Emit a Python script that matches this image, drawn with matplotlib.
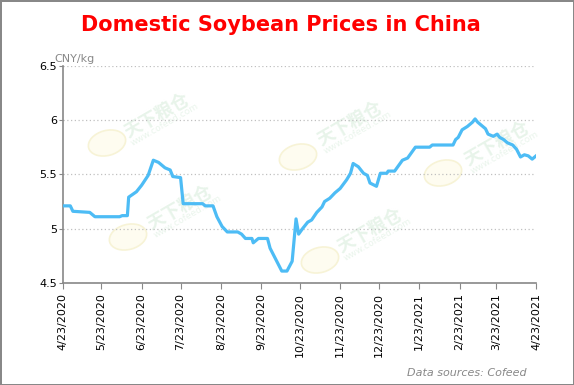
import pandas as pd
import matplotlib.pyplot as plt
from matplotlib.patches import Ellipse

# Domestic soybean prices (CNY/kg)
dates = ["2020-04-23", "2020-04-29", "2020-05-01", "2020-05-14", "2020-05-18", "2020-06-06",
         "2020-06-08", "2020-06-12", "2020-06-13", "2020-06-19", "2020-06-23", "2020-06-28",
         "2020-07-02", "2020-07-06", "2020-07-11", "2020-07-15", "2020-07-17", "2020-07-23",
         "2020-07-25", "2020-08-09", "2020-08-11", "2020-08-17", "2020-08-20", "2020-08-24",
         "2020-08-28", "2020-09-05", "2020-09-08", "2020-09-11", "2020-09-16", "2020-09-17",
         "2020-09-21", "2020-09-28", "2020-09-30", "2020-10-09", "2020-10-13", "2020-10-17",
         "2020-10-20", "2020-10-22", "2020-10-25", "2020-10-29", "2020-11-01", "2020-11-05",
         "2020-11-09", "2020-11-11", "2020-11-15", "2020-11-19", "2020-11-23", "2020-11-28",
         "2020-12-01", "2020-12-03", "2020-12-07", "2020-12-11", "2020-12-14", "2020-12-16",
         "2020-12-21", "2020-12-24", "2020-12-29", "2020-12-30", "2021-01-04", "2021-01-07",
         "2021-01-10", "2021-01-14", "2021-01-20", "2021-01-31", "2021-02-02", "2021-02-18",
         "2021-02-20", "2021-02-22", "2021-02-25", "2021-03-01", "2021-03-05", "2021-03-07",
         "2021-03-09", "2021-03-12", "2021-03-15", "2021-03-17", "2021-03-21", "2021-03-24",
         "2021-03-26", "2021-03-29", "2021-04-01", "2021-04-05", "2021-04-08", "2021-04-11",
         "2021-04-14", "2021-04-17", "2021-04-20", "2021-04-23"]
prices = [5.21, 5.21, 5.16, 5.15, 5.11, 5.11,
          5.12, 5.12, 5.29, 5.34, 5.40, 5.49,
          5.63, 5.61, 5.56, 5.54, 5.48, 5.47,
          5.23, 5.23, 5.21, 5.21, 5.11, 5.02,
          4.97, 4.97, 4.95, 4.91, 4.91, 4.87,
          4.91, 4.91, 4.82, 4.61, 4.61, 4.70,
          5.09, 4.95, 5.00, 5.06, 5.08, 5.15,
          5.20, 5.25, 5.28, 5.33, 5.37, 5.45,
          5.51, 5.60, 5.57, 5.51, 5.49, 5.42,
          5.39, 5.51, 5.51, 5.53, 5.53, 5.58,
          5.63, 5.65, 5.75, 5.75, 5.77, 5.77,
          5.82, 5.84, 5.91, 5.94, 5.98, 6.01,
          5.98, 5.95, 5.92, 5.87, 5.85, 5.87,
          5.84, 5.82, 5.79, 5.77, 5.73, 5.66,
          5.68, 5.67, 5.64, 5.67]
tick_dates = pd.date_range("2020-04-23", "2021-04-23", freq=pd.DateOffset(months=1))
y_ticks = [4.5, 5, 5.5, 6, 6.5]
y_labels = ["4.5", "5", "5.5", "6", "6.5"]

d = pd.to_datetime(dates)

W, H = 574, 385
fig = plt.figure(figsize=(5.74, 3.85), dpi=100)
fig.patch.set_edgecolor("#888888")
fig.patch.set_linewidth(2)
ax = fig.add_axes([0.1089, 0.2649, 0.825, 0.5645], zorder=2)
ax.patch.set_alpha(0)

# faint cofeed watermarks (text + logo), pixel positions
wm_text = [(157, 115), (180, 207), (350, 123), (370, 230), (497, 143)]
wm_logo = [(107, 143), (128, 237), (298, 157), (320, 260), (443, 173)]
for (tx, ty), (lx, ly) in zip(wm_text, wm_logo):
    fig.text(tx / W, 1 - ty / H, "天下粮仓", family=["Noto Sans CJK SC", "DejaVu Sans"],
             fontsize=13, fontweight="bold", color="#e8f4ea", rotation=30,
             ha="center", va="center", zorder=0)
    fig.text((tx + 8) / W, 1 - (ty + 10) / H, "www.cofeed.com", fontsize=6.5,
             color="#eaf5ec", rotation=30, ha="center", va="center", zorder=0)
    fig.add_artist(Ellipse((lx, H - ly), 38, 25, angle=15, transform=None,
                           facecolor="#fefcf0", edgecolor="#f7f3d6", lw=1.2, zorder=0))

ax.plot(d, prices, color="#4dbcf5", lw=2.3, solid_joinstyle="round", zorder=3)

ax.set_xlim(tick_dates[0], tick_dates[-1])
ax.set_ylim(4.5, 6.5)
ax.set_yticks(y_ticks)
ax.set_yticklabels(y_labels)
ax.set_xticks(tick_dates)
ax.set_xticklabels([f"{t.month}/{t.day}/{t.year}" for t in tick_dates], rotation=90)
ax.grid(axis="y", color="#c0c0c0", linestyle=(0, (1, 2)), lw=0.9)
ax.set_axisbelow(True)
for s in ["top", "right"]:
    ax.spines[s].set_visible(False)
for s in ["left", "bottom"]:
    ax.spines[s].set_color("#888888")
    ax.spines[s].set_linewidth(1.2)
ax.tick_params(axis="both", colors="#888888", labelcolor="black", labelsize=8, length=4)
ax.tick_params(axis="y", length=3, pad=1)

fig.text(0.49, 0.935, "Domestic Soybean Prices in China", color="red", fontsize=15,
         fontweight="bold", ha="center", va="center")
fig.text(0.094, 0.848, "CNY/kg", color="#888888", fontsize=8, va="center")
fig.text(0.917, 0.031, "Data sources: Cofeed", color="#888888", fontsize=8, style="italic",
         ha="right", va="center")

fig.savefig("out.png", dpi=100)
